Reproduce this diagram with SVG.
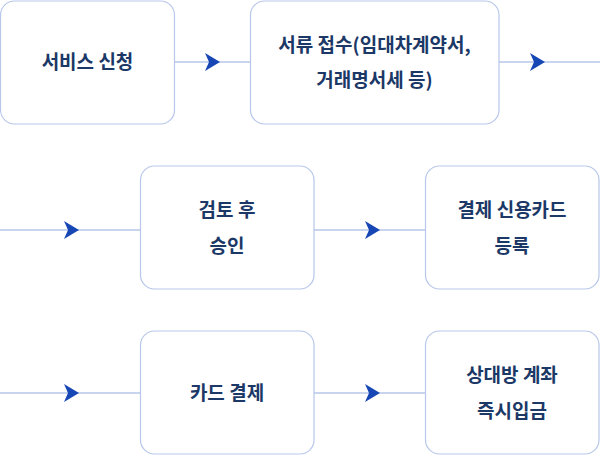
<svg xmlns="http://www.w3.org/2000/svg" width="600" height="455" viewBox="0 0 600 455">
<defs>
<style>
.box{fill:#ffffff;stroke:#b7c7ea;stroke-width:1.2}
.ln{stroke:#b7c7ea;stroke-width:1.5;fill:none}
.ah{fill:#1746b5}
text{font-family:"Noto Sans CJK KR","Noto Sans",sans-serif;font-size:19px;font-weight:700;fill:#1b3866;text-anchor:middle}
</style>
<path id="arr" d="M0,0 L-15,-9 L-11,0 L-15,9 Z"/>
</defs>
<rect width="600" height="455" fill="#ffffff"/>
<g id="connectors">
<line class="ln" x1="174.5" y1="62" x2="250.5" y2="62"/>
<use href="#arr" class="ah" x="220" y="62"/>
<line class="ln" x1="499" y1="62" x2="600" y2="62"/>
<use href="#arr" class="ah" x="545" y="62"/>
<line class="ln" x1="0" y1="230" x2="140.5" y2="230"/>
<use href="#arr" class="ah" x="79" y="230"/>
<line class="ln" x1="314" y1="230" x2="425.5" y2="230"/>
<use href="#arr" class="ah" x="380" y="230"/>
<line class="ln" x1="0" y1="393" x2="140.5" y2="393"/>
<use href="#arr" class="ah" x="79" y="393"/>
<line class="ln" x1="314" y1="393" x2="425.5" y2="393"/>
<use href="#arr" class="ah" x="380" y="393"/>
</g>
<g id="n1"><rect class="box" x="0.5" y="1" width="174" height="123" rx="14"/><text x="87.5" y="68.5">서비스 신청</text></g>
<g id="n2"><rect class="box" x="250.5" y="1" width="248.5" height="123" rx="14"/><text x="374.5" y="51.5">서류 접수(임대차계약서,</text><text x="374.5" y="86.5">거래명서세 등)</text></g>
<g id="n3"><rect class="box" x="140.5" y="166" width="173.5" height="123" rx="14"/><text x="227" y="216.5">검토 후</text><text x="227" y="252.5">승인</text></g>
<g id="n4"><rect class="box" x="425.5" y="166" width="173.5" height="123" rx="14"/><text x="512" y="216.5">결제 신용카드</text><text x="512" y="252.5">등록</text></g>
<g id="n5"><rect class="box" x="140.5" y="331" width="173.5" height="123" rx="14"/><text x="227" y="399.5">카드 결제</text></g>
<g id="n6"><rect class="box" x="425.5" y="331" width="173.5" height="123" rx="14"/><text x="512" y="381.5">상대방 계좌</text><text x="512" y="417.5">즉시입금</text></g>
</svg>
